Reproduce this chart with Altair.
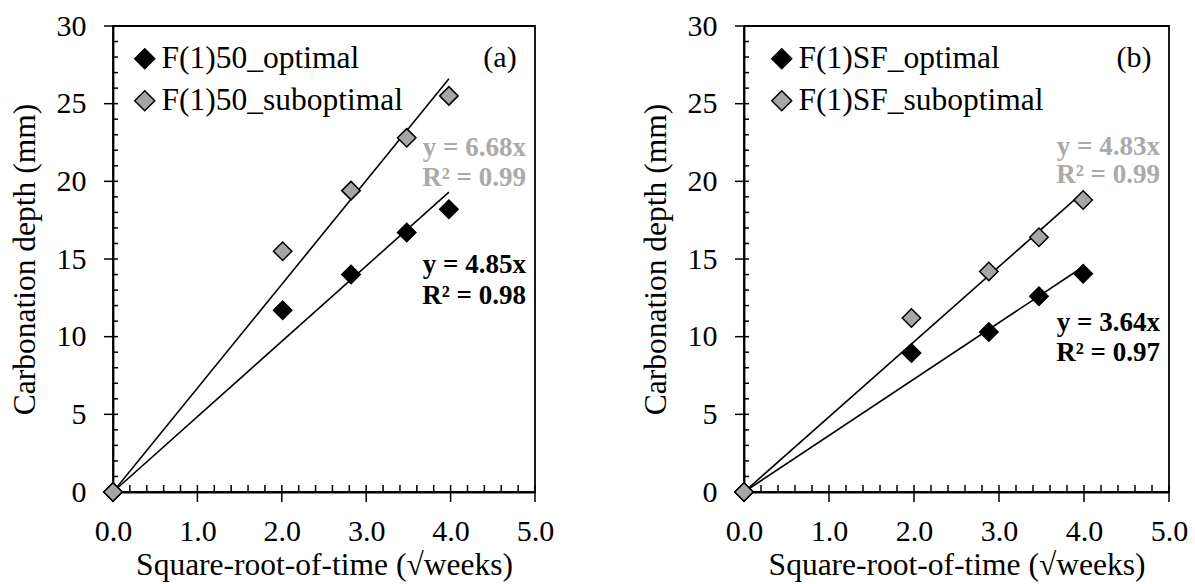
import altair as alt
import pandas as pd

FONT = "Times New Roman, Liberation Serif, Tinos, serif"
GRAY = "#a6a6a6"
GRAY_TXT = "#aaaaaa"

# ---------------- data ----------------
# Panel (a)
a_x_opt = [0.0, 2.01, 2.82, 3.48, 3.98]
a_y_opt = [0.0, 11.7, 14.0, 16.7, 18.2]
a_x_sub = [0.0, 2.01, 2.82, 3.48, 3.98]
a_y_sub = [0.0, 15.5, 19.4, 22.8, 25.5]
a_names = ["F(1)50_optimal", "F(1)50_suboptimal"]
a_trend_x_end = 3.98
a_trend_y_end = [19.3, 26.6]          # optimal, suboptimal
a_eq = ["y = 4.85x", "R² = 0.98", "y = 6.68x", "R² = 0.99"]

# Panel (b)
b_x_opt = [0.0, 1.97, 2.88, 3.47, 3.99]
b_y_opt = [0.0, 8.95, 10.3, 12.6, 14.05]
b_x_sub = [0.0, 1.97, 2.88, 3.47, 3.99]
b_y_sub = [0.0, 11.2, 14.2, 16.4, 18.8]
b_names = ["F(1)SF_optimal", "F(1)SF_suboptimal"]
b_trend_x_end = 3.99
b_trend_y_end = [14.5, 19.3]
b_eq = ["y = 3.64x", "R² = 0.97", "y = 4.83x", "R² = 0.99"]

# axis ticks
x_major = [0.0, 1.0, 2.0, 3.0, 4.0, 5.0]
x_minor = [0.2, 0.4, 0.6, 0.8, 1.2, 1.4, 1.6, 1.8, 2.2, 2.4, 2.6, 2.8,
           3.2, 3.4, 3.6, 3.8, 4.2, 4.4, 4.6, 4.8]
y_major = [0, 5, 10, 15, 20, 25, 30]
y_minor = [1, 2, 3, 4, 6, 7, 8, 9, 11, 12, 13, 14, 16, 17, 18, 19,
           21, 22, 23, 24, 26, 27, 28, 29]

X_TITLE = "Square-root-of-time (√weeks)"
Y_TITLE = "Carbonation depth (mm)"
H = 466


def panel(W, xo, yo, xs, ys, names, tx_end, ty_end, eq, tag,
          legx, eq_pos):
    xsc = alt.Scale(domain=[0, 5], nice=False, zero=True)
    ysc = alt.Scale(domain=[0, 30], nice=False, zero=True)

    pts = pd.DataFrame({
        "x": xo + xs,
        "y": yo + ys,
        "series": [names[0]] * len(xo) + [names[1]] * len(xs),
        "ord": [0] * len(xo) + [1] * len(xs),
    })
    trend = pd.DataFrame({
        "x": [0.0, tx_end, 0.0, tx_end],
        "y": [0.0, ty_end[0], 0.0, ty_end[1]],
        "series": [names[0], names[0], names[1], names[1]],
    })

    xaxis = alt.Axis(values=x_major, format=".1f", ticks=False, grid=False,
                     labelFlush=False, domainColor="black", domainWidth=1.8,
                     labelPadding=24, title=X_TITLE, titlePadding=3)
    yaxis = alt.Axis(values=y_major, format="d", ticks=False, grid=False,
                     domainColor="black", domainWidth=1.8,
                     labelPadding=27, title=Y_TITLE, titlePadding=15)

    lines = alt.Chart(trend).mark_line(color="black", strokeWidth=1.6).encode(
        x=alt.X("x:Q", scale=xsc, axis=xaxis),
        y=alt.Y("y:Q", scale=ysc, axis=yaxis),
        detail="series:N",
    )

    ytick_minor = alt.Chart(pd.DataFrame({"v": y_minor})).mark_rule(
        color="black", strokeWidth=1.5).encode(
        y=alt.Y("v:Q", scale=ysc), x=alt.value(0), x2=alt.value(5))
    ytick_major = alt.Chart(pd.DataFrame({"v": y_major})).mark_rule(
        color="black", strokeWidth=1.5).encode(
        y=alt.Y("v:Q", scale=ysc), x=alt.value(-9), x2=alt.value(5))
    xtick_minor = alt.Chart(pd.DataFrame({"v": x_minor})).mark_rule(
        color="black", strokeWidth=1.5).encode(
        x=alt.X("v:Q", scale=xsc), y=alt.value(H - 7), y2=alt.value(H))
    xtick_major = alt.Chart(pd.DataFrame({"v": x_major})).mark_rule(
        color="black", strokeWidth=1.5).encode(
        x=alt.X("v:Q", scale=xsc), y=alt.value(H - 7), y2=alt.value(H + 10))

    points = alt.Chart(pts).mark_point(
        shape="diamond", filled=True, size=340, stroke="black",
        strokeWidth=1.5, opacity=1).encode(
        x=alt.X("x:Q", scale=xsc),
        y=alt.Y("y:Q", scale=ysc),
        color=alt.Color("series:N",
                        scale=alt.Scale(domain=names, range=["black", GRAY]),
                        legend=alt.Legend(
                            title=None, orient="none", legendX=legx,
                            legendY=17, symbolType="diamond", symbolSize=400,
                            symbolStrokeColor="black", symbolStrokeWidth=1.5,
                            symbolOpacity=1,
                            labelFont=FONT, labelFontSize=31.5,
                            labelColor="black", labelOffset=1,
                            rowPadding=9, padding=0,
                            labelLimit=400)),
        order=alt.Order("ord:Q"),
    )

    texts = []
    cols = ["black", "black", GRAY_TXT, GRAY_TXT]
    for t, c, (px, py) in zip(eq, cols, eq_pos):
        texts.append(
            alt.Chart(pd.DataFrame({"t": [t]})).mark_text(
                font=FONT, fontSize=27, fontWeight="bold", color=c,
                align="right", baseline="middle").encode(
                text="t:N", x=alt.value(px), y=alt.value(py)))
    tag_txt = alt.Chart(pd.DataFrame({"t": [tag]})).mark_text(
        font=FONT, fontSize=30, color="black", align="center",
        baseline="middle").encode(
        text="t:N", x=alt.value(W - 35), y=alt.value(32))

    return alt.layer(lines, ytick_minor, ytick_major, xtick_minor,
                     xtick_major, points, *texts, tag_txt).properties(
        width=W, height=H)


pa = panel(422, a_x_opt, a_y_opt, a_x_sub, a_y_sub, a_names,
           a_trend_x_end, a_trend_y_end, a_eq, "(a)", 16,
           [(413, 239), (413, 270), (413, 122), (413, 152)])
pb = panel(425, b_x_opt, b_y_opt, b_x_sub, b_y_sub, b_names,
           b_trend_x_end, b_trend_y_end, b_eq, "(b)", 22,
           [(416, 297), (416, 327), (416, 121), (416, 149)])

chart = alt.hconcat(pa, pb, spacing=84).resolve_scale(
    color="independent").resolve_legend(color="independent").properties(
    padding={"left": 8, "top": 10, "right": 5, "bottom": 0}
).configure(font=FONT).configure_view(
    stroke="black", strokeWidth=1.8
).configure_axis(
    labelFont=FONT, labelFontSize=30, labelColor="black",
    titleFont=FONT, titleFontSize=31.5, titleColor="black",
    titleFontWeight="normal"
)

chart.save("out.html", embed_options={"renderer": "svg", "actions": False})
